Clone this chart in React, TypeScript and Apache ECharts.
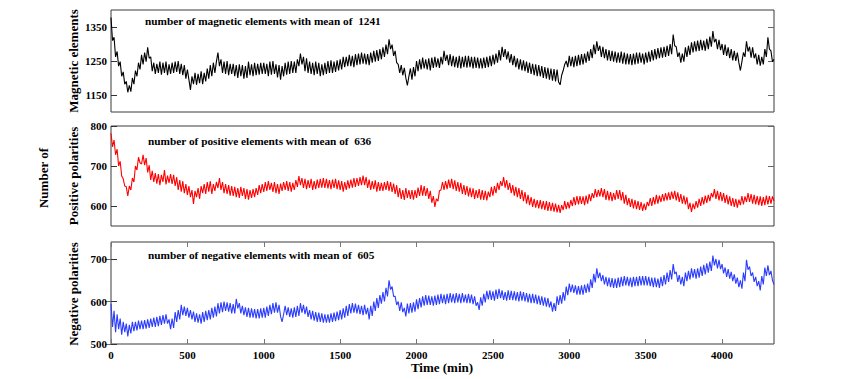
import React, { useEffect, useRef } from "react";
import * as echarts from "echarts";

// Sampling step (minutes) of the values
const STEP = 10;

const MAGNETIC = [
  1378, 1310, 1320, 1262, 1278, 1235, 1248, 1205, 1218, 1182, 1190, 1158, 1178, 1160, 1200, 1182, 1222, 1205, 1245, 1225,
  1268, 1240, 1275, 1248, 1290, 1258, 1262, 1220, 1245, 1212, 1242, 1215, 1248, 1210, 1245, 1215, 1248, 1208, 1240, 1212,
  1245, 1215, 1248, 1218, 1250, 1212, 1242, 1208, 1238, 1198, 1225, 1195, 1165, 1205, 1182, 1215, 1180, 1212, 1185, 1220,
  1182, 1215, 1190, 1228, 1198, 1238, 1205, 1245, 1215, 1248, 1275, 1235, 1255, 1215, 1248, 1212, 1250, 1208, 1242, 1212,
  1242, 1205, 1238, 1200, 1240, 1205, 1238, 1198, 1235, 1200, 1248, 1208, 1240, 1205, 1245, 1208, 1242, 1210, 1245, 1212,
  1245, 1212, 1242, 1205, 1248, 1210, 1250, 1212, 1240, 1202, 1238, 1195, 1235, 1205, 1245, 1210, 1248, 1212, 1250, 1215,
  1248, 1215, 1255, 1235, 1272, 1240, 1262, 1220, 1258, 1215, 1248, 1212, 1245, 1208, 1248, 1212, 1245, 1205, 1240, 1208,
  1245, 1212, 1250, 1215, 1252, 1215, 1248, 1218, 1252, 1222, 1255, 1225, 1262, 1232, 1262, 1235, 1268, 1235, 1265, 1232,
  1270, 1238, 1272, 1240, 1275, 1242, 1272, 1240, 1270, 1238, 1275, 1245, 1280, 1248, 1282, 1250, 1285, 1255, 1290, 1262,
  1298, 1270, 1314, 1285, 1298, 1265, 1280, 1245, 1240, 1215, 1238, 1208, 1230, 1200, 1178, 1205, 1228, 1195, 1232, 1205,
  1250, 1220, 1255, 1225, 1260, 1228, 1255, 1225, 1258, 1222, 1260, 1230, 1262, 1232, 1258, 1230, 1262, 1240, 1280, 1250,
  1268, 1238, 1270, 1235, 1265, 1232, 1262, 1230, 1265, 1228, 1262, 1232, 1265, 1230, 1265, 1232, 1262, 1228, 1262, 1230,
  1260, 1228, 1258, 1228, 1260, 1230, 1262, 1232, 1265, 1235, 1268, 1240, 1272, 1245, 1282, 1252, 1292, 1262, 1285, 1255,
  1278, 1245, 1270, 1238, 1265, 1232, 1258, 1225, 1255, 1222, 1252, 1220, 1248, 1215, 1245, 1212, 1242, 1208, 1240, 1205,
  1238, 1205, 1235, 1200, 1232, 1198, 1230, 1195, 1228, 1192, 1226, 1190, 1225, 1188, 1180, 1208, 1222, 1240, 1250, 1232,
  1265, 1235, 1262, 1232, 1265, 1235, 1268, 1238, 1270, 1240, 1272, 1245, 1278, 1250, 1285, 1258, 1298, 1270, 1308, 1280,
  1295, 1262, 1292, 1258, 1285, 1252, 1282, 1250, 1280, 1248, 1278, 1245, 1275, 1245, 1278, 1242, 1275, 1240, 1272, 1240,
  1270, 1238, 1272, 1240, 1275, 1242, 1275, 1245, 1272, 1240, 1275, 1245, 1278, 1248, 1282, 1252, 1285, 1255, 1288, 1258,
  1290, 1260, 1292, 1262, 1295, 1265, 1300, 1270, 1328, 1295, 1292, 1262, 1275, 1245, 1272, 1248, 1290, 1262, 1295, 1268,
  1305, 1275, 1308, 1278, 1310, 1280, 1312, 1282, 1310, 1280, 1315, 1285, 1322, 1292, 1338, 1305, 1315, 1285, 1312, 1282,
  1300, 1268, 1298, 1265, 1290, 1258, 1285, 1252, 1280, 1250, 1275, 1245, 1222, 1248, 1275, 1262, 1308, 1278, 1292, 1260,
  1290, 1258, 1272, 1240, 1268, 1236, 1262, 1240, 1285, 1262, 1320, 1285, 1280, 1248, 1255,
];

const POSITIVE = [
  782, 748, 765, 728, 742, 700, 712, 675, 668, 650, 648, 625, 650, 640, 670, 660, 700, 690, 722, 708,
  705, 728, 702, 720, 684, 702, 665, 688, 660, 682, 656, 680, 652, 678, 660, 690, 654, 676, 658, 680,
  655, 678, 650, 672, 640, 665, 636, 662, 632, 655, 628, 650, 622, 640, 605, 638, 622, 645, 618, 650,
  632, 655, 630, 660, 636, 662, 630, 655, 638, 660, 645, 670, 640, 660, 632, 655, 630, 652, 626, 650,
  625, 648, 622, 645, 620, 648, 625, 645, 618, 642, 616, 640, 620, 642, 622, 645, 628, 652, 632, 655,
  635, 660, 638, 662, 640, 658, 635, 660, 632, 655, 630, 656, 638, 660, 640, 662, 638, 660, 636, 658,
  640, 665, 648, 675, 652, 670, 645, 668, 642, 665, 645, 668, 640, 662, 642, 666, 645, 668, 646, 670,
  645, 668, 644, 665, 642, 666, 645, 668, 642, 664, 640, 662, 636, 660, 640, 664, 644, 666, 646, 670,
  648, 670, 650, 672, 652, 676, 652, 672, 645, 666, 640, 662, 642, 664, 636, 660, 638, 658, 638, 660,
  640, 662, 638, 660, 635, 656, 630, 652, 622, 645, 618, 640, 615, 645, 620, 640, 618, 640, 616, 640,
  620, 646, 625, 652, 626, 650, 625, 645, 618, 638, 608, 625, 598, 618, 612, 638, 640, 660, 640, 662,
  642, 666, 645, 668, 642, 664, 638, 660, 636, 658, 630, 652, 628, 650, 624, 646, 622, 644, 618, 640,
  620, 642, 616, 640, 615, 638, 614, 636, 622, 648, 626, 650, 632, 658, 640, 662, 650, 672, 646, 665,
  640, 658, 632, 652, 626, 648, 622, 645, 618, 640, 612, 635, 606, 628, 602, 622, 598, 618, 596, 615,
  594, 615, 592, 612, 590, 612, 588, 610, 588, 608, 586, 606, 584, 603, 583, 602, 590, 612, 592, 610,
  594, 615, 600, 622, 602, 625, 604, 625, 605, 624, 602, 626, 606, 630, 612, 632, 620, 642, 622, 640,
  624, 645, 622, 642, 615, 638, 614, 635, 612, 632, 615, 640, 618, 640, 614, 635, 606, 628, 602, 620,
  598, 618, 594, 615, 592, 612, 590, 610, 588, 606, 590, 610, 600, 620, 600, 622, 604, 628, 606, 626,
  610, 630, 612, 632, 614, 634, 615, 636, 618, 638, 614, 634, 610, 630, 606, 626, 604, 622, 592, 608,
  585, 606, 592, 612, 596, 618, 600, 622, 604, 626, 608, 628, 612, 632, 622, 642, 618, 638, 614, 635,
  612, 632, 608, 628, 604, 624, 600, 620, 598, 618, 596, 616, 602, 625, 604, 624, 610, 632, 610, 630,
  606, 628, 604, 625, 602, 624, 600, 622, 602, 626, 604, 625, 606, 624, 612,
];

const NEGATIVE = [
  595, 540, 578, 528, 570, 535, 560, 522, 552, 528, 548, 518, 545, 525, 552, 530, 552, 532, 555, 535,
  555, 535, 556, 536, 558, 538, 560, 540, 562, 540, 564, 542, 566, 545, 568, 548, 570, 548, 558, 535,
  560, 538, 575, 552, 580, 558, 592, 568, 588, 566, 585, 562, 580, 558, 576, 552, 572, 550, 570, 548,
  575, 552, 578, 556, 580, 558, 585, 562, 588, 565, 596, 572, 598, 575, 600, 578, 598, 576, 596, 572,
  594, 572, 606, 584, 596, 572, 590, 568, 586, 564, 585, 562, 584, 562, 582, 560, 582, 560, 584, 562,
  585, 562, 588, 566, 592, 570, 596, 574, 598, 574, 592, 565, 552, 570, 590, 568, 586, 564, 584, 562,
  586, 564, 590, 566, 596, 574, 592, 570, 588, 564, 580, 558, 578, 555, 575, 552, 574, 552, 572, 550,
  570, 550, 570, 550, 572, 552, 574, 554, 576, 556, 580, 558, 584, 562, 590, 566, 594, 572, 596, 574,
  595, 572, 592, 570, 590, 568, 592, 570, 585, 558, 590, 566, 600, 578, 608, 585, 615, 595, 622, 600,
  632, 612, 650, 628, 635, 612, 612, 592, 600, 578, 598, 575, 585, 565, 595, 572, 596, 574, 598, 576,
  605, 582, 608, 586, 612, 590, 615, 592, 614, 592, 612, 590, 614, 592, 616, 594, 618, 596, 616, 594,
  618, 596, 620, 598, 618, 596, 620, 598, 618, 596, 620, 598, 616, 596, 618, 596, 616, 594, 612, 590,
  598, 580, 610, 590, 618, 598, 625, 605, 626, 604, 624, 602, 628, 606, 630, 608, 626, 604, 622, 602,
  626, 604, 625, 603, 624, 602, 622, 600, 624, 602, 622, 600, 620, 598, 618, 596, 618, 596, 616, 594,
  614, 592, 612, 590, 610, 588, 608, 586, 600, 576, 596, 578, 612, 592, 615, 595, 622, 602, 635, 615,
  642, 622, 640, 620, 638, 616, 636, 616, 638, 616, 640, 620, 642, 622, 652, 632, 665, 645, 678, 655,
  668, 648, 662, 640, 658, 636, 656, 634, 655, 632, 654, 632, 656, 634, 658, 636, 660, 638, 658, 636,
  656, 634, 658, 636, 658, 636, 660, 638, 660, 638, 660, 638, 658, 636, 656, 634, 656, 634, 654, 632,
  658, 636, 662, 640, 668, 646, 674, 652, 688, 665, 670, 646, 662, 640, 658, 636, 668, 648, 672, 652,
  678, 656, 676, 654, 678, 656, 682, 660, 686, 664, 690, 668, 694, 672, 708, 685, 700, 678, 698, 676,
  688, 666, 680, 658, 676, 654, 670, 648, 664, 642, 656, 634, 650, 630, 668, 648, 698, 675, 682, 660,
  668, 646, 658, 636, 648, 626, 660, 640, 680, 660, 685, 662, 672, 650, 640,
];

const X_MAX = 4340;
const X_TICKS = [0, 500, 1000, 1500, 2000, 2500, 3000, 3500, 4000];

const PANELS = [
  { values: MAGNETIC, color: "#000000", min: 1100, max: 1400, ticks: [1150, 1250, 1350], title: "number of magnetic elements with mean of  1241" },
  { values: POSITIVE, color: "#ff0000", min: 550, max: 800, ticks: [600, 700, 800], title: "number of positive elements with mean of  636" },
  { values: NEGATIVE, color: "#2b3cff", min: 500, max: 740, ticks: [500, 600, 700], title: "number of negative elements with mean of  605" },
];

const FONT = "'Liberation Serif', 'Times New Roman', serif";

export default function App() {
  const ref = useRef<HTMLDivElement>(null);

  useEffect(() => {
    if (!ref.current) return;
    const chart = echarts.init(ref.current, null, { renderer: "svg" });

    const grids = [
      { left: 111, top: 10, width: 663, height: 102 },
      { left: 111, top: 126, width: 663, height: 100 },
      { left: 111, top: 242, width: 663, height: 102 },
    ].map((g) => ({ ...g, show: true, borderColor: "#3a3a3a", borderWidth: 1, backgroundColor: "transparent", containLabel: false }));

    const labelStyle = {
      fontFamily: FONT,
      fontWeight: "bold" as const,
      fontSize: 11,
      color: "#000",
      formatter: (v: number) => String(v),
    };

    const xAxes: any[] = [];
    PANELS.forEach((_, i) => {
      const isLast = i === PANELS.length - 1;
      xAxes.push({
        type: "value",
        gridIndex: i,
        min: 0,
        max: X_MAX,
        position: "bottom",
        axisLine: { show: false },
        splitLine: { show: false },
        axisTick: isLast
          ? { show: true, inside: true, length: 5, customValues: X_TICKS, lineStyle: { color: "#777" } }
          : { show: false },
        axisLabel: isLast ? { show: true, margin: 5, customValues: X_TICKS, ...labelStyle } : { show: false },
      });
      if (isLast) {
        xAxes.push({
          type: "value",
          gridIndex: i,
          min: 0,
          max: X_MAX,
          position: "top",
          axisLine: { show: false },
          splitLine: { show: false },
          axisTick: { show: true, inside: true, length: 5, customValues: X_TICKS, lineStyle: { color: "#777" } },
          axisLabel: { show: false },
        });
      }
    });

    const yAxes: any[] = [];
    PANELS.forEach((p, i) => {
      yAxes.push({
        type: "value",
        gridIndex: i,
        min: p.min,
        max: p.max,
        position: "left",
        axisLine: { show: false },
        splitLine: { show: false },
        axisTick: { show: true, inside: true, length: 6, customValues: p.ticks, lineStyle: { color: "#333" } },
        axisLabel: { show: true, margin: 4, customValues: p.ticks, ...labelStyle },
      });
      yAxes.push({
        type: "value",
        gridIndex: i,
        min: p.min,
        max: p.max,
        position: "right",
        axisLine: { show: false },
        splitLine: { show: false },
        axisTick: { show: true, inside: true, length: 6, customValues: p.ticks, lineStyle: { color: "#666" } },
        axisLabel: { show: false },
      });
    });

    const series = PANELS.map((p, i) => ({
      type: "line",
      xAxisIndex: i,
      yAxisIndex: i * 2,
      data: p.values.map((v, k) => [k * STEP, v]),
      showSymbol: false,
      symbol: "none",
      clip: true,
      lineStyle: { width: 1.1, color: p.color },
      itemStyle: { color: p.color },
    }));

    const titleTops = [15, 135, 249];
    const titles = PANELS.map((p, i) => ({
      text: p.title,
      left: i === 0 ? 145 : 148,
      top: titleTops[i],
      padding: 0,
      textStyle: { fontFamily: FONT, fontWeight: "bold", fontSize: 11.3, color: "#000" },
    }));

    const nameFont = `bold 13px ${FONT}`;
    const graphic = [
      { type: "text", x: 73, y: 61, rotation: Math.PI / 2, style: { text: "Magnetic elements", align: "center", verticalAlign: "middle", font: nameFont, fill: "#000" } },
      { type: "text", x: 73, y: 176, rotation: Math.PI / 2, style: { text: "Positive polarities", align: "center", verticalAlign: "middle", font: nameFont, fill: "#000" } },
      { type: "text", x: 43, y: 178, rotation: Math.PI / 2, style: { text: "Number of", align: "center", verticalAlign: "middle", font: nameFont, fill: "#000" } },
      { type: "text", x: 73, y: 294, rotation: Math.PI / 2, style: { text: "Negative polarities", align: "center", verticalAlign: "middle", font: nameFont, fill: "#000" } },
      { type: "text", x: 442, y: 367, style: { text: "Time (min)", align: "center", verticalAlign: "middle", font: nameFont, fill: "#000" } },
    ];

    chart.setOption({
      animation: false,
      backgroundColor: "#ffffff",
      title: titles,
      grid: grids,
      xAxis: xAxes,
      yAxis: yAxes,
      series,
      graphic,
    });

    return () => chart.dispose();
  }, []);

  return <div ref={ref} style={{ position: "fixed", left: 0, top: 0, width: 855, height: 379 }} />;
}
